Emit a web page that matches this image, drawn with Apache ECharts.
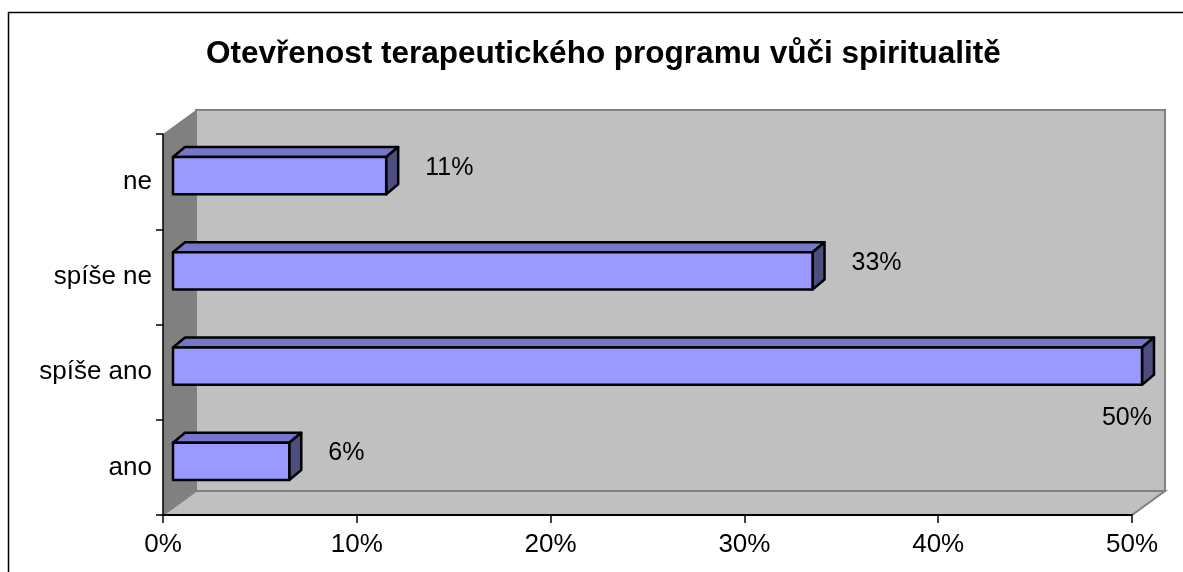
<!DOCTYPE html>
<html>
<head>
<meta charset="utf-8">
<script src="https://cdn.jsdelivr.net/npm/echarts@6/dist/echarts.min.js"></script>
<style>html,body{margin:0;padding:0;background:#fff}#chart{width:1183px;height:572px}</style>
</head>
<body>
<div id="chart"></div>
<script>
var categories = ['ano', 'spíše ano', 'spíše ne', 'ne'];
var shares = [0.06, 0.50, 0.33, 0.11];
var axisMax = 0.5;
var axisStep = 0.1;

var FONT = "'Liberation Sans', Arial, sans-serif";
var DEPTH = [33, -24];   // wall depth offset
var BAR_DEPTH = [12, -10];

function pct(v) {
  return Math.round(v * 100) + '%';
}

// back wall, side wall and floor of the 3d box
function renderWalls(params, api) {
  var c = params.coordSys;
  var x = c.x, y = c.y, w = c.width, h = c.height, dx = DEPTH[0], dy = DEPTH[1];
  return {
    type: 'group',
    children: [
      { type: 'polygon', shape: { points: [[x + dx, y + dy], [x + w + dx, y + dy], [x + w + dx, y + h + dy], [x + dx, y + h + dy]] },
        style: { fill: '#c0c0c0', stroke: '#808080', lineWidth: 2 } },
      { type: 'polygon', shape: { points: [[x, y], [x + dx, y + dy], [x + dx, y + h + dy], [x, y + h]] },
        style: { fill: '#808080' } },
      { type: 'polygon', shape: { points: [[x, y + h], [x + dx, y + h + dy], [x + w + dx, y + h + dy], [x + w, y + h]] },
        style: { fill: '#c0c0c0', stroke: '#808080', lineWidth: 2 } }
    ]
  };
}

function renderBar(params, api) {
  var v = api.value(0), idx = api.value(1);
  var p0 = api.coord([0, idx]);
  var p1 = api.coord([v, idx]);
  var h = api.size([0, 1])[1] * 0.39;
  var x0 = p0[0], x1 = p1[0], t = p0[1] - h / 2, b = p0[1] + h / 2;
  var dx = BAR_DEPTH[0], dy = BAR_DEPTH[1];
  var edge = { stroke: '#000', lineWidth: 2.5, lineJoin: 'round' };
  var c = params.coordSys;
  var fits = x1 + 110 < c.x + c.width;
  var label = fits
    ? { x: x1 + 39, y: p0[1] - 8, align: 'left' }
    : { x: x1 + 10, y: p0[1] + 52, align: 'right' };
  return {
    type: 'group',
    children: [
      { type: 'polygon', shape: { points: [[x0, t], [x0 + dx, t + dy], [x1 + dx, t + dy], [x1, t]] },
        style: Object.assign({ fill: '#7676c8' }, edge) },
      { type: 'polygon', shape: { points: [[x1, t], [x1 + dx, t + dy], [x1 + dx, b + dy], [x1, b]] },
        style: Object.assign({ fill: '#4d4d80' }, edge) },
      { type: 'rect', shape: { x: x0, y: t, width: x1 - x0, height: h },
        style: Object.assign({ fill: '#9999ff' }, edge) },
      { type: 'text', x: label.x, y: label.y,
        style: { text: pct(v), fill: '#000', font: '25px ' + FONT, align: label.align, verticalAlign: 'middle' } }
    ]
  };
}

var barData = shares.map(function (v, i) { return [v, i]; });

var chart = echarts.init(document.getElementById('chart'));
chart.setOption({
  animation: false,
  title: {
    text: 'Otevřenost terapeutického programu vůči spiritualitě',
    left: 201,
    top: 33,
    textStyle: { fontFamily: FONT, fontSize: 31.5, fontWeight: 'bold', color: '#000' }
  },
  graphic: [
    { type: 'rect', shape: { x: 8.5, y: 12.5, width: 1200, height: 600 },
      style: { fill: 'none', stroke: '#000', lineWidth: 1.5 }, z: 0 }
  ],
  grid: [
    { left: 163, right: 51, top: 134, bottom: 57 },
    { left: 173, right: 41, top: 128, bottom: 63 }
  ],
  xAxis: [
    {
      gridIndex: 0, type: 'value', min: 0, max: axisMax, interval: axisStep, z: 5,
      axisLine: { show: true, lineStyle: { color: '#000', width: 2 } },
      axisTick: { show: true, length: 8, lineStyle: { color: '#000', width: 1.5 } },
      splitLine: { show: false },
      axisLabel: { formatter: pct, color: '#000', fontFamily: FONT, fontSize: 26, margin: 17 }
    },
    { gridIndex: 1, type: 'value', min: 0, max: axisMax, show: false }
  ],
  yAxis: [
    {
      gridIndex: 0, type: 'category', data: categories, z: 5,
      axisLine: { show: true, lineStyle: { color: '#000', width: 1.5 } },
      axisTick: { show: true, length: 7, lineStyle: { color: '#000', width: 1.5 } },
      axisLabel: { color: '#000', fontFamily: FONT, fontSize: 26, margin: 11 }
    },
    { gridIndex: 1, type: 'category', data: categories, show: false }
  ],
  series: [
    { type: 'custom', xAxisIndex: 0, yAxisIndex: 0, data: [[0, 0]], renderItem: renderWalls, z: 1, silent: true },
    { type: 'custom', xAxisIndex: 1, yAxisIndex: 1, data: barData, renderItem: renderBar, z: 3 }
  ]
});
window.addEventListener('resize', chart.resize);
</script>
</body>
</html>
